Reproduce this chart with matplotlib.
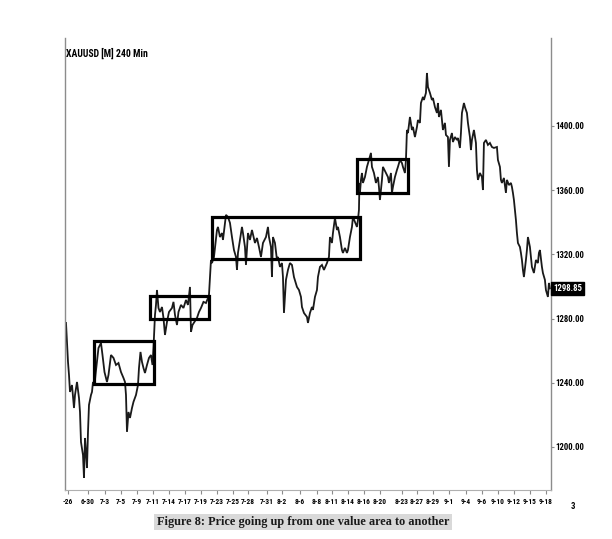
import matplotlib
matplotlib.use('Agg')
import matplotlib.pyplot as plt
import matplotlib.transforms as mtransforms
from matplotlib import font_manager
from matplotlib.patches import Rectangle

# XAUUSD 240 min series (bar position, price)
t = [1, 3, 4, 5, 7, 9, 10, 12, 14, 15, 16, 18, 19, 20, 21, 22, 23, 24, 26, 27,
     28, 29.5, 30.5, 32, 33.5, 36, 37.5, 39.5, 42, 43.5, 46, 48.5, 51, 53.5, 56,
     58.5, 60, 61, 62, 63.5, 65, 67, 68.5, 71, 73, 74, 75.5, 77, 78.5, 80, 82,
     84, 86, 87.5, 88.5, 89.5, 90, 91, 92, 93.5, 95, 97, 98.5, 100, 102, 104,
     107, 108.5, 110, 112, 113.5, 116, 118.5, 121, 123, 125, 126, 127.5, 129.5,
     132, 134, 136, 138.5, 141, 143, 144, 146, 147, 149, 152, 153, 155, 157,
     158, 161, 163, 165, 167, 169, 171, 172, 173, 175, 177, 178, 180, 181, 183,
     185, 187, 190, 192, 194, 196, 198, 201, 203, 204, 206, 207, 208, 210, 212,
     213, 215, 217, 218, 219, 221, 223, 225, 227, 229, 232, 234, 236, 237, 239,
     242, 243, 245, 247, 248, 250, 252, 253, 255, 257, 259, 262, 264, 265, 267,
     268, 270, 272, 273, 275, 277, 278, 280, 282, 283, 285, 287, 288, 290, 292,
     293, 294, 294.5, 295, 296, 297, 298, 300, 302, 304, 306, 307, 309, 311,
     313, 314, 315, 317, 318, 321, 323, 324, 326, 327, 328, 330, 332, 333, 335,
     337, 338, 340, 341, 342, 343, 345, 347, 348, 350, 352, 353, 355, 356, 358,
     359, 361, 362, 363, 365, 367, 368, 370, 372, 373, 374, 376, 377, 378, 380,
     381, 383, 384, 385, 387, 388, 390, 392, 393, 395, 396, 397, 399, 400, 402,
     403, 405, 406, 407, 409, 411, 412, 413, 415, 417, 418, 419, 421, 423, 425,
     427, 429, 432, 433, 435, 436, 437, 439, 441, 442, 444, 446, 447, 448, 449,
     451, 452, 453, 455, 456, 457, 458, 459, 461, 462, 463, 465, 466, 467, 469,
     471, 473, 474, 475, 477, 478, 480, 481, 483, 484, 485]
precio = [1277.3, 1253.0, 1244.9, 1234.3, 1238.6, 1224.3, 1232.4, 1240.5, 1230.5,
          1221.8, 1203.1, 1195.0, 1180.7, 1205.6, 1196.9, 1186.9, 1209.4, 1226.2,
          1232.4, 1234.3, 1240.5, 1238.6, 1244.9, 1253.0, 1261.7, 1264.8, 1257.3,
          1246.7, 1240.5, 1244.9, 1257.3, 1255.5, 1251.1, 1252.3, 1246.7, 1243.0,
          1240.5, 1232.4, 1209.4, 1221.8, 1218.1, 1224.3, 1228.1, 1232.4, 1238.6,
          1249.2, 1259.2, 1253.0, 1249.2, 1246.1, 1251.1, 1255.5, 1257.3, 1251.1,
          1261.7, 1276.0, 1282.3, 1288.5, 1297.8, 1286.6, 1284.1, 1287.2, 1280.4,
          1269.8, 1277.9, 1284.1, 1286.6, 1290.4, 1282.3, 1276.0, 1284.1, 1288.5,
          1286.6, 1291.6, 1288.5, 1299.7, 1271.7, 1276.0, 1277.9, 1280.4, 1284.1,
          1286.6, 1290.4, 1289.7, 1292.8, 1294.7, 1316.5, 1314.6, 1318.4, 1335.2,
          1337.1, 1330.8, 1333.3, 1329.0, 1344.6, 1343.3, 1339.6, 1330.8, 1322.7,
          1318.4, 1310.3, 1320.9, 1329.0, 1337.1, 1333.3, 1324.6, 1313.4, 1333.3,
          1329.0, 1335.2, 1327.1, 1330.2, 1324.6, 1318.4, 1327.1, 1330.8, 1337.1,
          1330.8, 1324.6, 1305.9, 1330.8, 1327.1, 1316.5, 1318.4, 1312.2, 1314.6,
          1305.9, 1283.5, 1304.1, 1310.3, 1314.6, 1313.4, 1305.9, 1299.7, 1297.8,
          1293.5, 1287.2, 1283.5, 1281.0, 1277.3, 1283.5, 1287.2, 1285.4, 1293.5,
          1297.8, 1305.9, 1312.2, 1313.4, 1310.3, 1314.6, 1318.4, 1330.8, 1327.1,
          1333.3, 1342.7, 1335.2, 1337.1, 1330.8, 1322.7, 1320.9, 1324.0, 1320.9,
          1322.7, 1330.8, 1337.1, 1343.3, 1340.2, 1337.1, 1341.4, 1347.7, 1364.5,
          1358.3, 1366.4, 1370.7, 1364.5, 1368.2, 1374.5, 1378.8, 1383.2, 1374.5,
          1370.7, 1364.5, 1368.2, 1362.0, 1353.9, 1366.4, 1374.5, 1370.7, 1368.2,
          1364.5, 1370.7, 1358.3, 1362.0, 1368.2, 1372.6, 1374.5, 1378.8, 1376.9,
          1374.5, 1370.7, 1378.8, 1397.5, 1395.6, 1405.6, 1397.5, 1399.4, 1393.1,
          1399.4, 1403.7, 1401.9, 1414.3, 1418.1, 1416.2, 1420.6, 1433.0, 1424.3,
          1420.6, 1416.2, 1417.4, 1411.8, 1408.1, 1414.3, 1405.6, 1410.0, 1403.7,
          1397.5, 1401.9, 1394.4, 1393.1, 1374.5, 1391.3, 1395.6, 1390.0, 1393.1,
          1391.3, 1392.5, 1386.3, 1395.6, 1408.1, 1414.3, 1411.8, 1408.1, 1401.9,
          1393.1, 1385.0, 1391.3, 1397.5, 1389.4, 1372.6, 1366.4, 1370.7, 1368.2,
          1360.1, 1389.4, 1391.3, 1388.2, 1389.4, 1386.9, 1386.3, 1386.9, 1378.8,
          1374.5, 1366.4, 1364.5, 1367.6, 1358.3, 1366.4, 1363.2, 1364.5, 1362.0,
          1358.3, 1353.9, 1341.4, 1333.3, 1327.1, 1324.6, 1320.9, 1316.5, 1310.3,
          1305.9, 1316.5, 1322.7, 1330.8, 1324.6, 1318.4, 1312.2, 1308.4, 1316.5,
          1314.6, 1320.9, 1322.7, 1312.2, 1308.4, 1304.1, 1297.8, 1293.5, 1302.2,
          1298.85]

# value areas: (start, end, low, high)
areas = [(29, 89.5, 1239.5, 1266.0),
         (85.3, 143.7, 1279.8, 1294.3),
         (147.3, 295.0, 1317.0, 1343.1),
         (291.7, 343.3, 1358.1, 1379.3)]

fechas = ['-26', '6-30', '7-3', '7-5', '7-9', '7-11', '7-14', '7-17', '7-19',
          '7-23', '7-25', '7-28', '7-31', '8-2', '8-6', '8-8', '8-11', '8-14',
          '8-16', '8-20', '8-23', '8-27', '8-29', '9-1', '9-4', '9-6', '9-10',
          '9-12', '9-15', '9-18']
pos_fechas = [3, 23, 40, 56, 72, 88, 104, 120, 136, 152, 168, 183, 202, 217,
              235, 252, 267, 283, 299, 315, 337, 352, 368, 384, 401, 417, 433,
              449, 465, 481]
niveles = [1200, 1240, 1280, 1320, 1360, 1400]
ultimo = 1298.85

# fuente estrecha si existe
nombres = {f.name for f in font_manager.fontManager.ttflist}
NARROW = [n for n in ['Liberation Sans Narrow', 'DejaVu Sans Condensed',
                      'Roboto Condensed', 'Open Sans Condensed'] if n in nombres]
NARROW = NARROW + ['DejaVu Sans']
TXT = dict(family=NARROW, fontweight='bold', fontstretch='condensed')
GRIS = '#8c8c8c'

fig = plt.figure(figsize=(6.12, 5.39), dpi=100)
ax = fig.add_axes([0.1062, 0.0909, 0.794, 0.8386])

ax.plot(t, precio, color='#1a1a1a', lw=1.3, solid_joinstyle='miter')
for x0, x1, lo, hi in areas:
    ax.add_patch(Rectangle((x0, lo), x1 - x0, hi - lo, fill=False,
                           ec='black', lw=2.3, zorder=5))

ax.set_xlim(0, 486)
ax.set_ylim(1173.2, 1454.8)

ax.spines['top'].set_visible(False)
for s in ['left', 'right']:
    ax.spines[s].set_color(GRIS)
    ax.spines[s].set_linewidth(1.0)
ax.spines['bottom'].set_color('#b0b0b0')

ax.yaxis.tick_right()
ax.set_yticks(niveles)
ax.set_yticklabels([f'{v:.2f}' for v in niveles], fontsize=6.3, **TXT)
ax.tick_params(axis='y', length=2, color=GRIS, pad=1)

ax.set_xticks(pos_fechas)
ax.set_xticklabels(fechas, fontsize=5.3, **TXT)
ax.tick_params(axis='x', length=3, color=GRIS, pad=3)
trans = mtransforms.blended_transform_factory(ax.transData, ax.transAxes)
ax.text(508, -0.037, '3', transform=trans, ha='center', va='center',
        fontsize=6.3, **TXT)

ax.text(1.004, ultimo, f'{ultimo:.2f}', transform=ax.get_yaxis_transform(),
        ha='left', va='center', color='white', fontsize=6.3,
        bbox=dict(boxstyle='square,pad=0.25', fc='black', ec='black'), **TXT)

ax.text(0.002, 0.967, 'XAUUSD [M] 240 Min', transform=ax.transAxes,
        ha='left', va='center', fontsize=7, **TXT)

fig.text(0.495, 0.0315, 'Figure 8: Price going up from one value area to another',
         ha='center', va='center', family='Liberation Serif', fontweight='bold',
         fontsize=8.8, color='#1a1a1a',
         bbox=dict(boxstyle='square,pad=0.2', fc='#d9d9d9', ec='none'))

fig.savefig('out.png', dpi=100)
